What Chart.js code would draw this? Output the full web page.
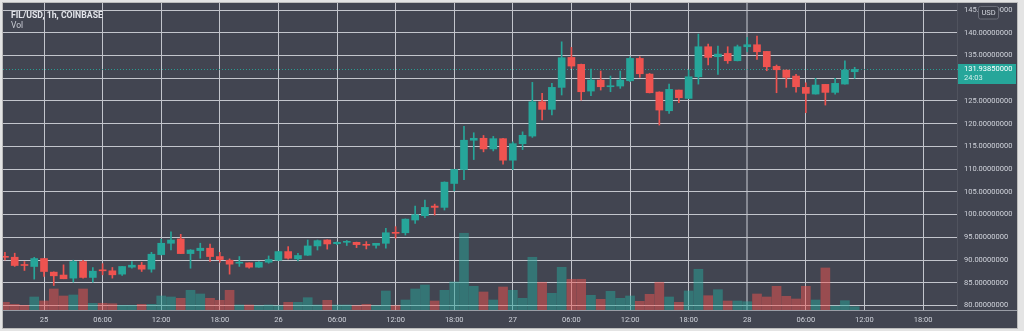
<!DOCTYPE html>
<html lang="en">
<head>
<meta charset="UTF-8">
<title>FIL/USD, 1h, COINBASE</title>
<style>
    html, body { margin: 0; padding: 0; background: #e4e4e4; }
    #frame {
        position: absolute; left: 2px; top: 2px;
        width: 1014px; height: 325px;
        border: 1px solid #bcbcbc;
        background: #424551;
    }
    canvas { display: block; }
</style>
</head>
<body>
<div id="frame"><canvas id="chart" width="1014" height="325"></canvas></div>

<script src="https://cdn.jsdelivr.net/npm/chart.js@4.4.0/dist/chart.umd.min.js"></script>
<script>
    // hourly candles, first one is 24th 20:00 (hour -4 relative to the 25th 00:00)
    const firstHour = -4
    const opens = [
        90.80, 90.62, 88.94, 88.58, 90.33, 87.34, 86.70, 86.02, 89.67, 86.17,
        87.85, 87.63, 86.90, 88.43, 88.87, 87.99, 91.20, 93.69, 94.64, 91.42,
        92.08, 92.60, 90.77, 89.96, 89.30, 89.38, 88.43, 89.52, 89.96, 91.86,
        90.26, 91.06, 93.10, 94.42, 93.60, 93.90, 93.90, 93.46, 93.24, 93.68,
        96.10, 96.00, 98.80, 99.75, 101.87, 101.58, 106.84, 109.91, 116.35, 116.78,
        114.44, 116.70, 111.96, 115.60, 117.27, 124.82, 123.14, 127.98, 134.57, 133.04,
        127.17, 129.59, 128.12, 128.27, 129.44, 134.35, 130.90, 126.95, 122.84, 127.39,
        125.56, 130.32, 136.92, 134.72, 135.45, 133.84, 136.92, 137.36, 135.89, 132.60,
        131.79, 130.47, 127.98, 126.51, 128.64, 126.88, 128.71, 131.42
    ]
    const highs = [
        91.70, 91.50, 89.67, 90.60, 90.40, 87.40, 88.94, 89.96, 89.96, 88.36,
        89.20, 88.36, 88.60, 89.67, 89.50, 91.70, 94.60, 96.20, 95.66, 92.30,
        93.70, 93.50, 91.70, 90.26, 90.77, 89.40, 89.67, 90.90, 91.90, 92.95,
        91.50, 94.40, 94.40, 94.45, 94.00, 94.30, 93.95, 94.05, 93.70, 96.97,
        97.34, 99.05, 101.87, 103.20, 102.30, 107.20, 109.95, 119.42, 118.00, 117.40,
        117.20, 116.75, 116.00, 118.20, 129.08, 126.66, 128.86, 138.00, 136.77, 133.10,
        132.00, 131.57, 130.47, 131.57, 134.72, 134.72, 131.05, 127.00, 128.70, 127.40,
        131.80, 139.70, 137.50, 137.07, 136.92, 137.29, 138.97, 139.27, 135.90, 132.90,
        131.80, 130.84, 129.00, 129.96, 128.65, 129.96, 133.84, 132.40
    ]
    const lows = [
        90.00, 88.60, 87.70, 85.80, 86.40, 84.40, 85.88, 85.15, 86.00, 85.15,
        86.75, 86.02, 86.60, 88.20, 87.48, 87.33, 91.10, 92.20, 91.40, 88.20,
        90.40, 89.67, 89.50, 86.90, 88.60, 88.20, 88.40, 89.30, 89.90, 90.20,
        89.80, 91.00, 92.20, 92.40, 93.40, 93.20, 92.73, 92.44, 92.60, 92.60,
        94.80, 95.50, 98.07, 99.30, 99.90, 101.00, 105.23, 107.70, 112.10, 113.80,
        114.00, 111.08, 109.90, 114.30, 116.98, 120.80, 121.90, 126.30, 132.16, 125.19,
        126.14, 127.39, 127.02, 127.76, 129.22, 130.18, 126.75, 119.69, 122.26, 124.60,
        125.50, 128.70, 132.90, 130.84, 133.26, 133.80, 135.82, 134.14, 131.64, 126.80,
        127.98, 126.95, 122.40, 126.50, 124.09, 126.51, 128.70, 129.96
    ]
    const closes = [
        90.60, 88.80, 88.80, 90.33, 87.48, 86.53, 85.88, 89.67, 86.17, 87.55,
        87.63, 86.75, 88.58, 88.87, 87.99, 91.28, 93.69, 94.40, 91.42, 92.20,
        92.60, 90.77, 90.10, 89.09, 89.45, 88.43, 89.52, 90.11, 91.86, 90.40,
        91.00, 93.10, 94.27, 93.54, 93.90, 94.05, 93.39, 93.24, 93.68, 96.00,
        95.88, 99.00, 99.97, 101.58, 101.58, 107.13, 109.91, 116.35, 116.78, 114.44,
        116.70, 111.96, 115.60, 117.44, 124.82, 123.14, 127.98, 134.50, 132.67, 127.02,
        129.59, 128.12, 128.34, 129.59, 134.35, 130.98, 126.80, 122.99, 127.54, 125.70,
        130.32, 136.92, 134.57, 135.30, 133.84, 136.92, 137.36, 135.82, 132.52, 131.86,
        130.18, 128.12, 126.66, 128.49, 126.88, 128.86, 131.79, 131.9385
    ]
    const volumes = [
        7.7, 5.7, 4.7, 13, 9, 21, 14, 15, 21, 6.7,
        6.7, 6.3, 4.7, 4.7, 5.7, 5.7, 14, 13, 11.7, 19.7,
        16, 11.7, 9.7, 19.7, 5, 5, 4.3, 5, 4.3, 7.7,
        7.7, 12.3, 5, 9.7, 5, 5, 4.3, 5.7, 4.3, 19,
        4.3, 10, 21, 25, 9, 19.7, 28, 76.7, 23.7, 18,
        10, 23, 19.7, 11.7, 52.7, 27.7, 16.7, 42.7, 30.7, 30.7,
        14.7, 10.7, 18.7, 11.7, 14, 8.7, 15.7, 27.7, 13, 7.7,
        19, 40.7, 14.3, 20.3, 9, 9, 8.3, 16, 13, 23.7,
        13.7, 11, 23.7, 10, 42, 4, 9.3, 3.3
    ]

    const priceTicks = [80, 85, 90, 95, 100, 105, 110, 115, 120, 125, 130, 135, 140, 145]
    const timeTickHours = [0, 6, 12, 18, 24, 30, 36, 42, 48, 54, 60, 66, 72, 78, 84, 90]
    const timeTickLabels = ['25', '06:00', '12:00', '18:00', '26', '06:00', '12:00', '18:00',
        '27', '06:00', '12:00', '18:00', '28', '06:00', '12:00', '18:00']
    const crosshairHour = 72
    const lastPrice = closes[closes.length - 1]
    const countdown = '24:03'

    const UP = '#26a69a'
    const DOWN = '#ef5350'
    const UP_VOL = 'rgba(38,166,154,0.5)'
    const DOWN_VOL = 'rgba(239,83,80,0.5)'
    const GRID = '#c3c5cc'
    const TEXT = '#d1d4dc'

    let hours = []
    for (let i = 0; i < closes.length; i++) hours.push(firstHour + i)
    const isUp = closes.map((c, i) => c >= opens[i])

    Chart.defaults.font.family = 'Roboto'
    Chart.defaults.font.size = 7.5

    // scales must not push the plot area in for their edge labels
    function noEdgePadding(axis) {
        axis.paddingTop = 0
        axis.paddingBottom = 0
        axis.paddingLeft = 0
        axis.paddingRight = 0
    }

    const overlay = {
        id: 'overlay',
        beforeDatasetsDraw(chart) {
            const {ctx, chartArea, scales: {y}} = chart
            const py = Math.round(y.getPixelForValue(lastPrice)) + 0.5
            ctx.save()
            ctx.strokeStyle = 'rgba(38,166,154,0.9)'
            ctx.lineWidth = 1
            ctx.setLineDash([1, 2])
            ctx.beginPath()
            ctx.moveTo(chartArea.left, py)
            ctx.lineTo(chartArea.right, py)
            ctx.stroke()
            ctx.restore()
        },
        afterDraw(chart) {
            const {ctx, chartArea, scales: {y}, width} = chart
            ctx.save()

            // line between the plot and the time axis
            ctx.strokeStyle = '#9a9da6'
            ctx.lineWidth = 1
            ctx.beginPath()
            ctx.moveTo(0, chartArea.bottom + 0.5)
            ctx.lineTo(width, chartArea.bottom + 0.5)
            ctx.stroke()

            // symbol legend
            ctx.textBaseline = 'middle'
            ctx.textAlign = 'left'
            ctx.font = 'bold 8.7px Roboto'
            ctx.fillStyle = '#e3e5eb'
            ctx.fillText('FIL/USD, 1h, COINBASE', 8, 12.5)
            ctx.font = '8.5px Roboto'
            ctx.fillStyle = '#c9ccd4'
            ctx.fillText('Vol', 8, 23)

            // last price tag
            const py = y.getPixelForValue(lastPrice)
            ctx.fillStyle = UP
            ctx.fillRect(chartArea.right + 1, Math.round(py - 5.5), 58, 20)
            ctx.strokeStyle = UP
            ctx.beginPath()
            ctx.moveTo(chartArea.right, Math.round(py) + 0.5)
            ctx.lineTo(chartArea.right + 4, Math.round(py) + 0.5)
            ctx.stroke()
            ctx.font = '7.5px Roboto'
            ctx.fillStyle = '#ffffff'
            ctx.fillText(lastPrice.toFixed(8), chartArea.right + 7, py)
            ctx.fillStyle = '#d4efec'
            ctx.fillText(countdown, chartArea.right + 7, py + 9)

            // currency badge
            ctx.fillStyle = '#3d404b'
            ctx.strokeStyle = '#6b6e79'
            ctx.beginPath()
            ctx.roundRect(975.5, 3.5, 20, 12.5, 2)
            ctx.fill()
            ctx.stroke()
            ctx.fillStyle = TEXT
            ctx.textAlign = 'center'
            ctx.fillText('USD', 985.5, 10)

            ctx.restore()
        }
    }

    new Chart(document.getElementById('chart'), {
        type: 'bar',
        data: {
            datasets: [
                {
                    label: 'Volume',
                    yAxisID: 'vol',
                    data: volumes.map((v, i) => ({x: hours[i], y: v})),
                    backgroundColor: isUp.map(u => u ? UP_VOL : DOWN_VOL),
                    barThickness: 9,
                    grouped: false,
                    order: 3,
                },
                {
                    label: 'Wicks',
                    yAxisID: 'y',
                    data: highs.map((h, i) => ({x: hours[i], y: [lows[i], h]})),
                    backgroundColor: isUp.map(u => u ? UP : DOWN),
                    barThickness: 1,
                    grouped: false,
                    order: 2,
                },
                {
                    label: 'Bodies',
                    yAxisID: 'y',
                    data: opens.map((o, i) => ({x: hours[i], y: [o, closes[i]]})),
                    backgroundColor: isUp.map(u => u ? UP : DOWN),
                    barThickness: 7,
                    minBarLength: 1,
                    grouped: false,
                    order: 1,
                },
            ],
        },
        options: {
            responsive: false,
            animation: false,
            layout: {padding: 0, autoPadding: false},
            plugins: {
                legend: {display: false},
                tooltip: {enabled: false},
            },
            scales: {
                x: {
                    type: 'linear',
                    offset: false,
                    min: -4.198,
                    max: 93.477,
                    afterBuildTicks: axis => {
                        axis.ticks = timeTickHours.map(v => ({value: v}))
                    },
                    afterFit: axis => {
                        axis.height = 18
                        noEdgePadding(axis)
                    },
                    ticks: {
                        autoSkip: false,
                        maxRotation: 0,
                        padding: 5.5,
                        color: TEXT,
                        callback: v => timeTickLabels[timeTickHours.indexOf(v)],
                    },
                    grid: {
                        offset: false,
                        drawTicks: false,
                        color: ctx => ctx.tick && ctx.tick.value === crosshairHour ? '#868993' : GRID,
                        lineWidth: ctx => ctx.tick && ctx.tick.value === crosshairHour ? 2 : 1,
                    },
                    border: {display: false},
                },
                y: {
                    position: 'right',
                    min: 79.01,
                    max: 146.54,
                    afterBuildTicks: axis => {
                        axis.ticks = priceTicks.map(v => ({value: v}))
                    },
                    afterFit: axis => {
                        axis.width = 60
                        noEdgePadding(axis)
                    },
                    ticks: {
                        padding: 7,
                        color: TEXT,
                        callback: v => v.toFixed(8),
                    },
                    grid: {
                        drawTicks: false,
                        color: GRID,
                    },
                    border: {display: true, color: '#50535e'},
                },
                vol: {
                    display: false,
                    min: 0,
                    max: Math.max(...volumes) * 4,
                },
            },
        },
        plugins: [overlay],
    })
</script>
</body>
</html>
